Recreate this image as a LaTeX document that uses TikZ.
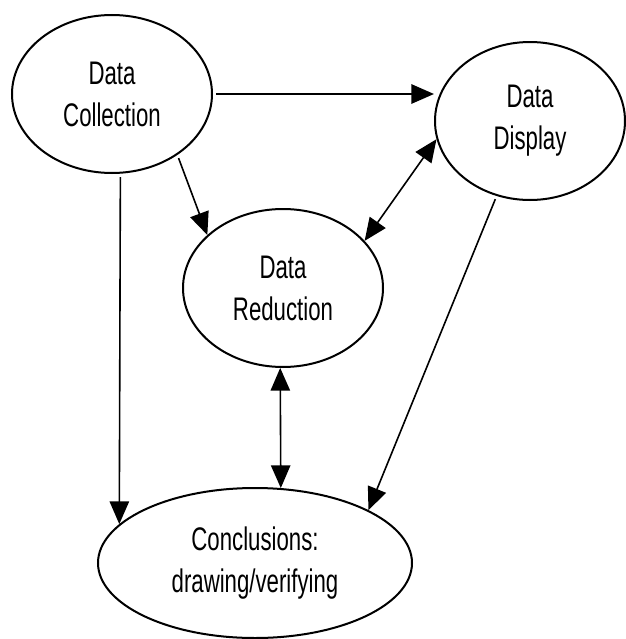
\documentclass[tikz,border=0pt]{standalone}
\usepackage{fontspec}
\setmainfont[FakeStretch=0.68]{Liberation Sans}
\usetikzlibrary{arrows.meta,shapes.geometric}
\tikzset{
  bubble/.style={ellipse, draw, line width=1.5pt, inner sep=0pt, align=center,
    font=\fontsize{24.5}{31.5}\selectfont},
  tip/.tip={Triangle[length=17pt,width=14.5pt]},
  conn/.style={line width=1.2pt, -tip, shorten <=2.5pt},
  both/.style={line width=1.2pt, tip-tip}
}
\begin{document}
\begin{tikzpicture}[x=0.75pt,y=-0.75pt]
\useasboundingbox (0,0) rectangle (625,639);
\node[bubble, minimum width=150pt, minimum height=118.5pt] (dc) at (112,94) {Data\\Collection};
\node[bubble, minimum width=142.5pt, minimum height=118.5pt] (dd) at (530,121) {Data\\Display};
\node[bubble, minimum width=150pt, minimum height=118.5pt] (dr) at (283,288) {Data\\Reduction};
\node[bubble, minimum width=235.5pt, minimum height=112.5pt] (cv) at (255,563) {Conclusions:\\drawing/verifying};
\draw[conn, line width=1.5pt] (dc.east) -- (dc.east -| dd.west);
\draw[conn] (dc.-43) -- (dr.145);
\draw[conn] (dc.-84) -- (cv.164);
\draw[both] (dr.30) -- (dd.191);
\draw[both] (dr.-92) -- (cv.71);
\draw[conn] (dd.246) -- (cv.25);
\end{tikzpicture}
\end{document}
